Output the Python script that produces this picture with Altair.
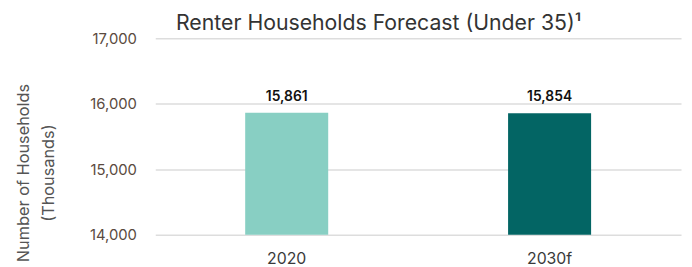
import altair as alt
import pandas as pd

categories = ["2020", "2030f"]
values = [15861, 15854]
colors = ["#88CFC3", "#036564"]

df = pd.DataFrame({"year": categories, "households": values})

FONT = "Inter"

base = alt.Chart(df).encode(
    x=alt.X("year:N", sort=categories,
            scale=alt.Scale(paddingInner=0, paddingOuter=0),
            axis=alt.Axis(title=None, labelAngle=0, labelFontSize=16, labelColor="#3a3a3a",
                          labelFont=FONT, ticks=False, domain=False, labelPadding=16, grid=False)),
)

bars = base.mark_bar(size=84, clip=True).encode(
    y=alt.Y("households:Q",
            scale=alt.Scale(domain=[14000, 17000], zero=False, nice=False),
            axis=alt.Axis(values=[14000, 15000, 16000, 17000], format=",d",
                          title=["Number of Households", "(Thousands)"],
                          titleFontSize=16.5, titleFontWeight="normal", titleColor="#555555",
                          titleFont=FONT, titleX=-125, titleY=136, titleAngle=-90,
                          titleAlign="center", titleBaseline="bottom", titleLineHeight=25,
                          labelFontSize=15, labelColor="#5a4a40", labelFont=FONT,
                          labelPadding=19, ticks=False, domain=False,
                          gridColor="#dddddd", gridWidth=1.5)),
    color=alt.Color("year:N", scale=alt.Scale(domain=categories, range=colors), legend=None),
)

labels = base.mark_text(baseline="bottom", dy=-9, fontSize=14, fontWeight=600,
                        font=FONT, color="#111111").encode(
    y=alt.Y("households:Q"),
    text=alt.Text("households:Q", format=",d"),
)

chart = (bars + labels).properties(
    width=532, height=199,
    autosize=alt.AutoSizeParams(type="none"),
    padding={"left": 149, "top": 29, "right": 3, "bottom": 31},
    title=alt.TitleParams("Renter Households Forecast (Under 35)¹", anchor="start", frame="group",
                          dx=21, fontSize=21.5, fontWeight="normal", color="#333333", font=FONT,
                          offset=-3),
).configure_view(stroke=None)

chart.save("out.html", embed_options={"renderer": "svg", "actions": False})
